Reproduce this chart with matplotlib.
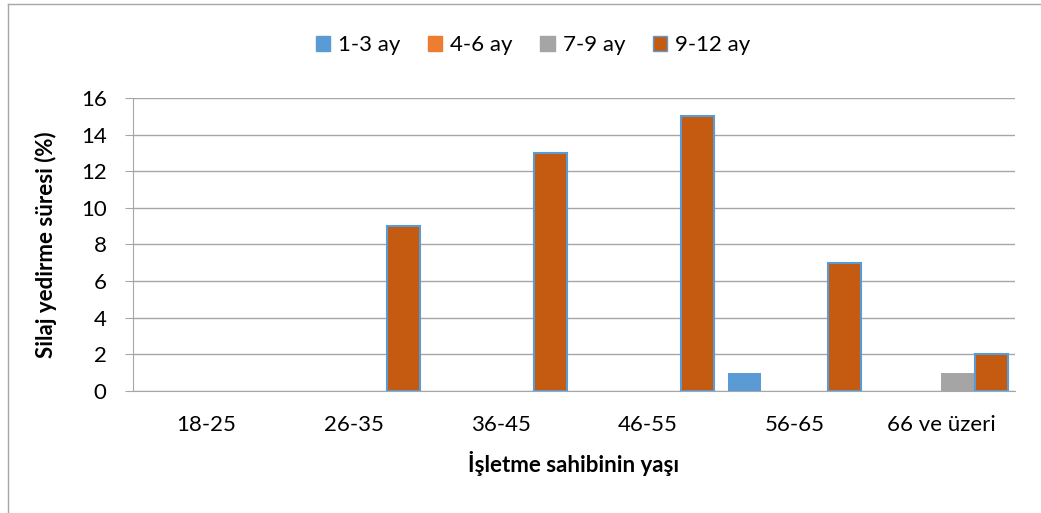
import numpy as np
import matplotlib
matplotlib.use("Agg")
import matplotlib.pyplot as plt
from matplotlib.lines import Line2D
from matplotlib.patches import Patch

plt.rcParams['font.family'] = ['Lato', 'DejaVu Sans']

categories = ['18-25', '26-35', '36-45', '46-55', '56-65', '66 ve üzeri']
series_names = ['1-3 ay', '4-6 ay', '7-9 ay', '9-12 ay']
ay_1_3 = [0, 0, 0, 0, 1, 0]
ay_4_6 = [0, 0, 0, 0, 0, 0]
ay_7_9 = [0, 0, 0, 0, 0, 1]
ay_9_12 = [0, 9, 13, 15, 7, 2]

colors = ['#5B9BD5', '#ED7D31', '#A5A5A5', '#C55A11']
fs = 16

fig = plt.figure(figsize=(10.41, 5.13), dpi=100)
ax = fig.add_axes([0.1278, 0.2378, 0.8472, 0.5712])

x = np.arange(len(categories))
w = 0.225
offsets = [-1.5 * w, -0.5 * w, 0.5 * w, 1.5 * w]
for vals, off, c, name in zip([ay_1_3, ay_4_6, ay_7_9, ay_9_12], offsets, colors, series_names):
    bars = ax.bar(x + off, vals, w, color=c, linewidth=0, zorder=3)
    if name == '9-12 ay':
        # light blue outline on the non-empty bars of the last series
        for b, v in zip(bars, vals):
            if v > 0:
                b.set_edgecolor('#5B9BD5')
                b.set_linewidth(1.5)

ax.set_xlim(-0.5, len(categories) - 0.5)
ax.set_ylim(0, 16)
ax.set_yticks(range(0, 17, 2))
ax.yaxis.grid(True, color='#A6A6A6', linewidth=1)
ax.set_axisbelow(True)
for s in ['top', 'right']:
    ax.spines[s].set_visible(False)
ax.spines['left'].set_color('#A6A6A6')
ax.spines['bottom'].set_color('#A6A6A6')
ax.tick_params(axis='y', length=6, color='#A6A6A6', labelsize=fs, pad=13)
ax.tick_params(axis='x', length=0, labelsize=fs, pad=17)
ax.set_xticks(x)
ax.set_xticklabels(categories)

ax.set_ylabel('Silaj yedirme süresi (%)', fontsize=fs, fontweight='bold', labelpad=17)
ax.set_xlabel('İşletme sahibinin yaşı', fontsize=fs, fontweight='bold', labelpad=12)

handles = [Patch(facecolor=c, edgecolor=('#5B9BD5' if n == '9-12 ay' else c)) for c, n in zip(colors, series_names)]
fig.legend(handles, series_names, loc='center', bbox_to_anchor=(0.512, 0.912), ncol=4,
           frameon=False, fontsize=fs, handlelength=0.65, handleheight=0.65,
           handletextpad=0.35, columnspacing=1.25)

# outer chart border
fig.add_artist(Line2D([0.0077, 0.0077], [0, 0.992], color='#A6A6A6', linewidth=1, transform=fig.transFigure))
fig.add_artist(Line2D([0.0077, 1.0], [0.992, 0.992], color='#A6A6A6', linewidth=1, transform=fig.transFigure))

fig.savefig('out.png', dpi=100)
